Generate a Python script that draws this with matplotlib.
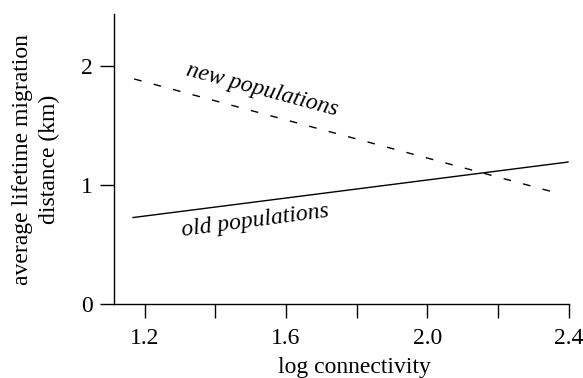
import matplotlib
matplotlib.use("Agg")
import matplotlib.pyplot as plt

# data
old_x = [1.165, 2.40]
old_y = [0.727, 1.194]
new_x = [1.170, 2.356]
new_y = [1.89, 0.942]
xticks_major = [1.2, 1.6, 2.0, 2.4]
xtick_labels = ["1.2", "1.6", "2.0", "2.4"]
xticks_minor = [1.4, 1.8, 2.2]
yticks = [0, 1, 2]
ytick_labels = ["0", "1", "2"]

plt.rcParams['font.family'] = ['Liberation Serif', 'DejaVu Serif']

fig = plt.figure(figsize=(5.83, 3.78), dpi=100)
ax = fig.add_axes([113.7/583, 1-304.3/378, (568.7-113.7)/583, (304.3-14)/378])

ax.plot(old_x, old_y, color='black', lw=1.0, solid_capstyle='butt')
ln, = ax.plot(new_x, new_y, color='black', lw=1.0)
ln.set_dashes((5.5, 9.0))

ax.set_xlim(1.112, 2.4)
ax.set_ylim(0, 2.435)

ax.set_xticks(xticks_major)
ax.set_xticklabels(xtick_labels)
ax.set_xticks(xticks_minor, minor=True)
ax.set_yticks(yticks)
ax.set_yticklabels(ytick_labels)

for s in ['top', 'right']:
    ax.spines[s].set_visible(False)
for s in ['left', 'bottom']:
    ax.spines[s].set_linewidth(1.0)

ax.tick_params(axis='x', which='both', direction='out', length=10, width=1.0,
               labelsize=17, pad=7)
ax.tick_params(axis='y', which='both', direction='out', length=10, width=1.0,
               labelsize=17, pad=5)

ax.text(0.530, -0.216, "log connectivity", transform=ax.transAxes,
        ha='center', va='center', fontsize=17)
ax.text(-0.171, 0.5, "average lifetime migration\ndistance (km)",
        transform=ax.transAxes, ha='center', va='center', rotation=90,
        fontsize=17, linespacing=1.35, multialignment='center')

ax.text(1.533, 1.80, "new populations", style='italic', fontsize=17,
        rotation=-15, ha='center', va='center', rotation_mode='anchor')
ax.text(1.513, 0.70, "old populations", style='italic', fontsize=17,
        rotation=7.5, ha='center', va='center', rotation_mode='anchor')

fig.savefig("out.png", dpi=100)
